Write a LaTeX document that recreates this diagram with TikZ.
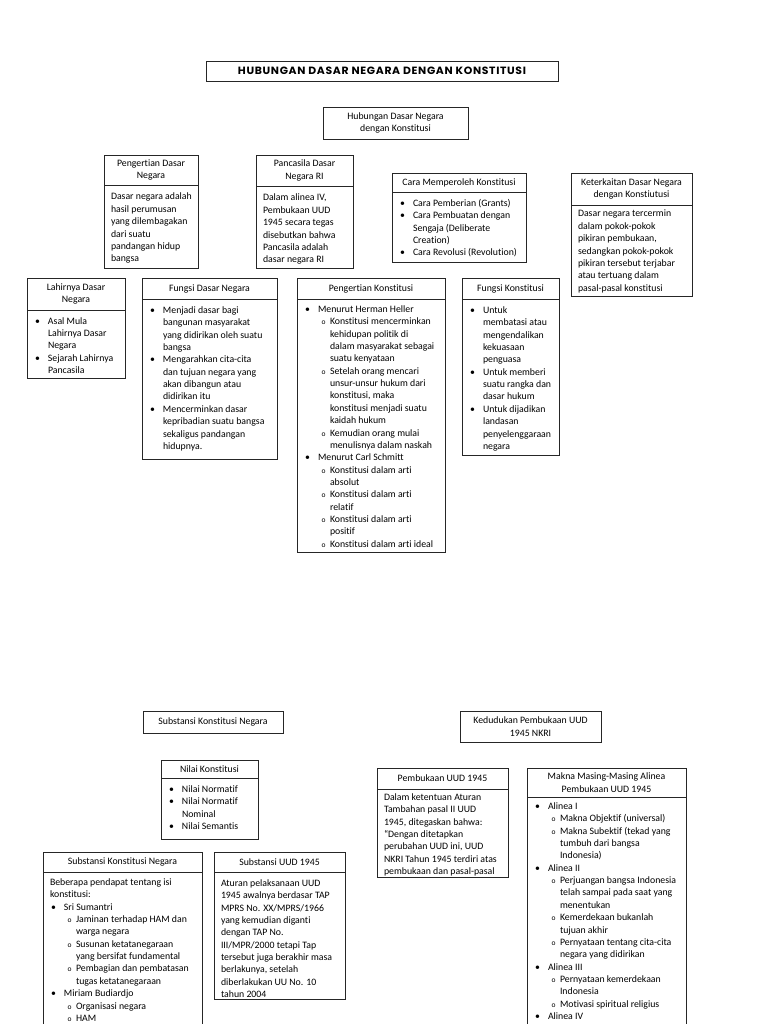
\documentclass[tikz,border=0pt]{standalone}
\usepackage{fontspec}
\setmainfont{Carlito}[Ligatures={NoCommon}]
\newfontfamily\titlefont[LetterSpace=6]{Poppins}
\usepackage{graphicx}
\newcommand\bi{\par\leftskip=14pt\noindent\llap{\textbullet\hspace{8pt}}}
\newcommand\si{\par\leftskip=26pt\noindent\llap{{\fontsize{7.5pt}{7.5pt}\selectfont o}\hspace{4.5pt}}}
\newcommand\bodyfont{\fontsize{9.8pt}{12.35pt}\selectfont}
\tikzset{
  bl/.style={draw=black!85, line width=0.9pt, outer sep=0pt},
  hd/.style={bl, anchor=north west, align=center, inner sep=0pt, font=\bodyfont},
  bx/.style={bl, anchor=north west, inner sep=0pt},
  tx/.style={anchor=base west, inner sep=0pt, outer sep=0pt, font=\bodyfont}
}
\begin{document}
\begin{tikzpicture}[x=1pt,y=-1pt]
\useasboundingbox (0,0) rectangle (768,1024);
\fill[white] (0,0) rectangle (768,1024);

% title
\node[bl, anchor=north west, inner sep=0pt, minimum width=352pt, minimum height=20pt] (title) at (206,61)
  {\resizebox{288pt}{7.5pt}{\titlefont\bfseries HUBUNGAN DASAR NEGARA DENGAN KONSTITUSI}};

\node[hd, minimum width=145pt, minimum height=32pt] (main) at (323,107) {Hubungan Dasar Negara\\dengan Konstitusi};

% Pengertian Dasar Negara
\node[hd, minimum width=94pt, minimum height=30pt] (pdnH) at (104,155) {Pengertian Dasar\\Negara};
\node[bx, minimum width=94pt, minimum height=83pt] (pdnB) at (104,185) {};
\node[tx] (pdnT) at ([shift={(7pt,-15pt)}]pdnB.north west) {\parbox[t]{250pt}{\raggedright
Dasar negara adalah\\hasil perumusan\\yang dilembagakan\\dari suatu\\pandangan hidup\\bangsa}};

% Pancasila Dasar Negara RI
\node[hd, minimum width=97pt, minimum height=31pt] (pcH) at (256,155) {Pancasila Dasar\\Negara RI};
\node[bx, minimum width=97pt, minimum height=82pt] (pcB) at (256,186) {};
\node[tx] (pcT) at ([shift={(7pt,-15pt)}]pcB.north west) {\parbox[t]{250pt}{\raggedright
Dalam alinea IV,\\Pembukaan UUD\\1945 secara tegas\\disebutkan bahwa\\Pancasila adalah\\dasar negara RI}};

% Cara Memperoleh Konstitusi
\node[hd, minimum width=134pt, minimum height=19pt] (cmH) at (392,173) {Cara Memperoleh Konstitusi};
\node[bx, minimum width=134pt, minimum height=70pt] (cmB) at (392,192) {};
\node[tx] (cmT) at ([shift={(7pt,-14.5pt)}]cmB.north west) {\parbox[t]{250pt}{\raggedright
\bi Cara Pemberian (Grants)
\bi Cara Pembuatan dengan\\Sengaja (Deliberate\\Creation)
\bi Cara Revolusi (Revolution)}};

% Keterkaitan
\node[hd, minimum width=121pt, minimum height=32pt] (ktH) at (571,173) {Keterkaitan Dasar Negara\\dengan Konstiutusi};
\node[bx, minimum width=121pt, minimum height=91pt] (ktB) at (571,205) {};
\node[tx] (ktT) at ([shift={(7pt,-12pt)}]ktB.north west) {\parbox[t]{250pt}{\raggedright
Dasar negara tercermin\\dalam pokok-pokok\\pikiran pembukaan,\\sedangkan pokok-pokok\\pikiran tersebut terjabar\\atau tertuang dalam\\pasal-pasal konstitusi}};

% Lahirnya Dasar Negara
\node[hd, minimum width=98pt, minimum height=32pt] (ldH) at (27,278) {Lahirnya Dasar\\Negara};
\node[bx, minimum width=98pt, minimum height=68pt] (ldB) at (27,310) {};
\node[tx] (ldT) at ([shift={(7pt,-14pt)}]ldB.north west) {\parbox[t]{250pt}{\raggedright
\bi Asal Mula\\Lahirnya Dasar\\Negara
\bi Sejarah Lahirnya\\Pancasila}};

% Fungsi Dasar Negara
\node[hd, minimum width=135pt, minimum height=21pt] (fdH) at (142,278) {Fungsi Dasar Negara};
\node[bx, minimum width=135pt, minimum height=160pt] (fdB) at (142,299) {};
\node[tx] (fdT) at ([shift={(7pt,-14.5pt)}]fdB.north west) {\parbox[t]{250pt}{\raggedright
\bi Menjadi dasar bagi\\bangunan masyarakat\\yang didirikan oleh suatu\\bangsa
\bi Mengarahkan cita-cita\\dan tujuan negara yang\\akan dibangun atau\\didirikan itu
\bi Mencerminkan dasar\\kepribadian suatu bangsa\\sekaligus pandangan\\hidupnya.}};

% Pengertian Konstitusi
\node[hd, minimum width=148pt, minimum height=21pt] (pkH) at (297,278) {Pengertian Konstitusi};
\node[bx, minimum width=148pt, minimum height=253pt] (pkB) at (297,299) {};
\node[tx] (pkT) at ([shift={(7pt,-13.5pt)}]pkB.north west) {\parbox[t]{250pt}{\raggedright
\bi Menurut Herman Heller
\si Konstitusi mencerminkan\\kehidupan politik di\\dalam masyarakat sebagai\\suatu kenyataan
\si Setelah orang mencari\\unsur-unsur hukum dari\\konstitusi, maka\\konstitusi menjadi suatu\\kaidah hukum
\si Kemudian orang mulai\\menulisnya dalam naskah
\bi Menurut Carl Schmitt
\si Konstitusi dalam arti\\absolut
\si Konstitusi dalam arti\\relatif
\si Konstitusi dalam arti\\positif
\si Konstitusi dalam arti ideal}};

% Fungsi Konstitusi
\node[hd, minimum width=97pt, minimum height=21pt] (fkH) at (462,278) {Fungsi Konstitusi};
\node[bx, minimum width=97pt, minimum height=156pt] (fkB) at (462,299) {};
\node[tx] (fkT) at ([shift={(7pt,-14.5pt)}]fkB.north west) {\parbox[t]{250pt}{\raggedright
\bi Untuk\\membatasi atau\\mengendalikan\\kekuasaan\\penguasa
\bi Untuk memberi\\suatu rangka dan\\dasar hukum
\bi Untuk dijadikan\\landasan\\penyelenggaraan\\negara}};

% lower part
\node[hd, minimum width=140pt, minimum height=22pt] (skn) at (143,711) {Substansi Konstitusi Negara};
\node[hd, minimum width=141pt, minimum height=31pt] (kedu) at (460,711) {Kedudukan Pembukaan UUD\\1945 NKRI};

% Nilai Konstitusi
\node[hd, minimum width=97pt, minimum height=18pt] (nkH) at (161,760) {Nilai Konstitusi};
\node[bx, minimum width=97pt, minimum height=61pt] (nkB) at (161,778) {};
\node[tx] (nkT) at ([shift={(7pt,-14.5pt)}]nkB.north west) {\parbox[t]{250pt}{\raggedright
\bi Nilai Normatif
\bi Nilai Normatif\\Nominal
\bi Nilai Semantis}};

% Pembukaan UUD 1945
\node[hd, minimum width=131pt, minimum height=21pt] (puH) at (377,768) {Pembukaan UUD 1945};
\node[bx, minimum width=131pt, minimum height=88pt] (puB) at (377,789) {};
\node[tx] (puT) at ([shift={(7pt,-11.5pt)}]puB.north west) {\parbox[t]{250pt}{\raggedright
Dalam ketentuan Aturan\\Tambahan pasal II UUD\\1945, ditegaskan bahwa:\\“Dengan ditetapkan\\perubahan UUD ini, UUD\\NKRI Tahun 1945 terdiri atas\\pembukaan dan pasal-pasal}};

% Makna Masing-Masing Alinea
\node[hd, minimum width=159pt, minimum height=29pt] (mkH) at (527,768) {Makna Masing-Masing Alinea\\Pembukaan UUD 1945};
\node[bx, minimum width=159pt, minimum height=245pt] (mkB) at (527,797) {};
\node[tx] (mkT) at ([shift={(7pt,-12.5pt)}]mkB.north west) {\parbox[t]{250pt}{\raggedright
\bi Alinea I
\si Makna Objektif (universal)
\si Makna Subektif (tekad yang\\tumbuh dari bangsa\\Indonesia)
\bi Alinea II
\si Perjuangan bangsa Indonesia\\telah sampai pada saat yang\\menentukan
\si Kemerdekaan bukanlah\\tujuan akhir
\si Pernyataan tentang cita-cita\\negara yang didirikan
\bi Alinea III
\si Pernyataan kemerdekaan\\Indonesia
\si Motivasi spiritual religius
\bi Alinea IV}};

% Substansi Konstitusi Negara (detail)
\node[hd, minimum width=159pt, minimum height=20pt] (sk2H) at (43,852) {Substansi Konstitusi Negara};
\node[bx, minimum width=159pt, minimum height=190pt] (sk2B) at (43,872) {};
\node[tx] (sk2T) at ([shift={(7pt,-13.5pt)}]sk2B.north west) {\parbox[t]{250pt}{\raggedright
Beberapa pendapat tentang isi\\konstitusi:
\bi Sri Sumantri
\si Jaminan terhadap HAM dan\\warga negara
\si Susunan ketatanegaraan\\yang bersifat fundamental
\si Pembagian dan pembatasan\\tugas ketatanegaraan
\bi Miriam Budiardjo
\si Organisasi negara
\si HAM}};

% Substansi UUD 1945
\node[hd, minimum width=131pt, minimum height=20pt] (suH) at (214,852) {Substansi UUD 1945};
\node[bx, minimum width=131pt, minimum height=127pt] (suB) at (214,872) {};
\node[tx] (suT) at ([shift={(7pt,-14.5pt)}]suB.north west) {\parbox[t]{250pt}{\raggedright
Aturan pelaksanaan UUD\\1945 awalnya berdasar TAP\\MPRS No. XX/MPRS/1966\\yang kemudian diganti\\dengan TAP No.\\III/MPR/2000 tetapi Tap\\tersebut juga berakhir masa\\berlakunya, setelah\\diberlakukan UU No. 10\\tahun 2004}};
\end{tikzpicture}
\end{document}
